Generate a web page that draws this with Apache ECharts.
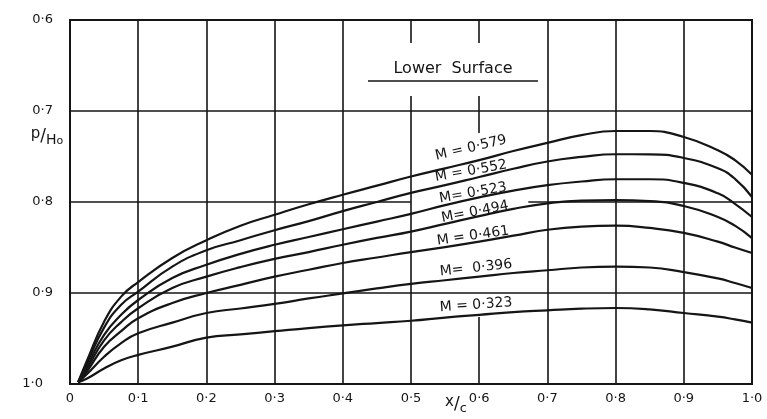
<!DOCTYPE html>
<html>
<head>
<meta charset="utf-8">
<script src="https://cdn.jsdelivr.net/npm/echarts@6/dist/echarts.min.js"></script>
<style>
html,body{margin:0;padding:0;background:#fff;}
#c{width:767px;height:419px;}
</style>
</head>
<body>
<div id="c"></div>
<script>
// ---- data ----
const xs   = [0.012, 0.025, 0.05, 0.075, 0.1, 0.15, 0.2, 0.25, 0.3, 0.35, 0.4, 0.45, 0.5, 0.55, 0.6, 0.65, 0.7, 0.75, 0.8, 0.85, 0.9, 0.95, 0.975, 1.0];
const m579 = [0.998, 0.974, 0.9315, 0.904, 0.888, 0.8615, 0.842, 0.826, 0.814, 0.8025, 0.792, 0.782, 0.772, 0.763, 0.754, 0.744, 0.735, 0.7265, 0.722, 0.722, 0.7286, 0.743, 0.754, 0.770];
const m552 = [0.998, 0.977, 0.938, 0.913, 0.8985, 0.871, 0.853, 0.842, 0.831, 0.821, 0.810, 0.800, 0.790, 0.7815, 0.7725, 0.7635, 0.7555, 0.7505, 0.7475, 0.7476, 0.7516, 0.763, 0.7745, 0.7945];
const m523 = [0.998, 0.980, 0.946, 0.924, 0.9077, 0.8835, 0.869, 0.857, 0.847, 0.8385, 0.830, 0.8215, 0.813, 0.8035, 0.795, 0.7875, 0.7815, 0.7775, 0.775, 0.775, 0.779, 0.7905, 0.802, 0.8165];
const m494 = [0.998, 0.983, 0.952, 0.932, 0.9168, 0.8945, 0.882, 0.8715, 0.8625, 0.855, 0.847, 0.8395, 0.8325, 0.824, 0.8155, 0.8075, 0.8015, 0.7985, 0.798, 0.799, 0.8044, 0.8165, 0.826, 0.8396];
const m461 = [0.998, 0.986, 0.959, 0.942, 0.9278, 0.911, 0.900, 0.891, 0.882, 0.8745, 0.867, 0.861, 0.855, 0.8495, 0.8435, 0.837, 0.8305, 0.827, 0.826, 0.8285, 0.834, 0.8436, 0.850, 0.856];
const m396 = [0.998, 0.989, 0.970, 0.955, 0.9443, 0.9326, 0.922, 0.917, 0.912, 0.906, 0.9005, 0.895, 0.890, 0.886, 0.882, 0.878, 0.875, 0.872, 0.871, 0.872, 0.877, 0.884, 0.889, 0.8945];
const m323 = [0.998, 0.994, 0.983, 0.974, 0.968, 0.959, 0.949, 0.9455, 0.942, 0.9385, 0.9355, 0.933, 0.9305, 0.927, 0.924, 0.921, 0.919, 0.9172, 0.9165, 0.918, 0.922, 0.926, 0.929, 0.9326];
const seriesNames = ['M = 0·579','M = 0·552','M= 0·523','M= 0·494','M = 0·461','M=  0·396','M = 0·323'];
const seriesValues = [m579, m552, m523, m494, m461, m396, m323];

const xTicks = [0,0.1,0.2,0.3,0.4,0.5,0.6,0.7,0.8,0.9,1.0];
const xTickLabels = ['0','0·1','0·2','0·3','0·4','0·5','0·6','0·7','0·8','0·9','1·0'];
const yTicks = [0.6,0.7,0.8,0.9,1.0];
const yTickLabels = ['0·6','0·7','0·8','0·9','1·0'];
const titleText = 'Lower  Surface';

// gaps in the hand-drawn grid (value space)
const vGaps = {0.5: [[0.6253, 0.6835]], 0.6: [[0.6253, 0.6835], [0.7242, 0.9264]]};
const hGaps = {0.8: [[0.5, 0.672]]};

// ---- layout / styles ----
const INK = '#151515';
const FONT = '"DejaVu Sans", sans-serif';
const labelLayout = [
  {x: 471, y: 148, r: 13},
  {x: 471, y: 171, r: 10},
  {x: 473, y: 193, r: 10},
  {x: 475, y: 212, r: 11},
  {x: 473, y: 236, r: 8},
  {x: 476, y: 268, r: 6},
  {x: 476, y: 305, r: 4}
];

function segs(lo, hi, gaps) {
  let out = [], s = lo;
  (gaps || []).forEach(g => { out.push([s, g[0]]); s = g[1]; });
  out.push([s, hi]);
  return out;
}
const gridLines = [];
xTicks.slice(1, -1).forEach(x => {
  const key = Math.round(x * 10) / 10;
  segs(0.6, 1.0, vGaps[key]).forEach(s => gridLines.push([{coord: [x, s[0]]}, {coord: [x, s[1]]}]));
});
yTicks.slice(1, -1).forEach(y => {
  const key = Math.round(y * 10) / 10;
  segs(0, 1.0, hGaps[key]).forEach(s => gridLines.push([{coord: [s[0], y]}, {coord: [s[1], y]}]));
});

const chart = echarts.init(document.getElementById('c'), null, {renderer: 'canvas'});
const series = seriesValues.map((vals, i) => ({
  name: seriesNames[i],
  type: 'line',
  data: xs.map((x, j) => [x, vals[j]]),
  smooth: 0.5,
  showSymbol: false,
  lineStyle: {color: INK, width: 2.2},
  z: 3
}));
series.push({
  type: 'line', data: [], silent: true,
  markLine: {
    silent: true, symbol: ['none', 'none'],
    label: {show: false},
    lineStyle: {color: INK, width: 1.6, type: 'solid'},
    emphasis: {disabled: true},
    animation: false,
    data: gridLines
  }
});

const graphics = seriesNames.map((n, i) => ({
  type: 'text',
  x: labelLayout[i].x, y: labelLayout[i].y,
  rotation: labelLayout[i].r * Math.PI / 180,
  style: {text: n, fill: INK, font: '14px ' + FONT, textAlign: 'center', textVerticalAlign: 'middle'},
  z: 10
}));
graphics.push({
  type: 'text', x: 453, y: 69,
  style: {text: titleText, fill: INK, font: '16px ' + FONT, textAlign: 'center', textVerticalAlign: 'middle'},
  z: 10
});
graphics.push({
  type: 'line', shape: {x1: 368, y1: 81, x2: 538, y2: 81},
  style: {stroke: INK, lineWidth: 1.6}, z: 10
});
graphics.push({
  type: 'text', x: 47, y: 137,
  style: {
    text: '{a|p}{b|/}{c|H}{d|o}',
    rich: {
      a: {font: '15px ' + FONT, fill: INK, verticalAlign: 'top', padding: [0,0,6,0]},
      b: {font: '17px ' + FONT, fill: INK},
      c: {font: '14px ' + FONT, fill: INK, padding: [6,0,0,0]},
      d: {font: '11px ' + FONT, fill: INK, padding: [9,0,0,0]}
    },
    textAlign: 'center', textVerticalAlign: 'middle'
  }, z: 10
});
graphics.push({
  type: 'text', x: 456, y: 405,
  style: {
    text: '{a|x}{b|/}{c|c}',
    rich: {
      a: {font: '15px ' + FONT, fill: INK, padding: [0,0,6,0]},
      b: {font: '17px ' + FONT, fill: INK},
      c: {font: '13px ' + FONT, fill: INK, padding: [7,0,0,0]}
    },
    textAlign: 'center', textVerticalAlign: 'middle'
  }, z: 10
});

chart.setOption({
  animation: false,
  backgroundColor: '#fff',
  grid: {left: 70, right: 15, top: 20, bottom: 35, show: true, borderColor: INK, borderWidth: 2, backgroundColor: 'transparent'},
  xAxis: {
    type: 'value', min: 0, max: 1, interval: 0.1,
    axisLine: {show: true, lineStyle: {color: INK, width: 2}},
    axisTick: {show: false},
    splitLine: {show: false},
    axisLabel: {
      color: INK, fontSize: 13, fontFamily: FONT, margin: 8,
      formatter: v => { const i = xTicks.findIndex(t => Math.abs(t - v) < 1e-6); return i >= 0 ? xTickLabels[i] : ''; }
    }
  },
  yAxis: {
    type: 'value', min: 0.6, max: 1.0, interval: 0.1, inverse: true,
    axisLine: {show: true, lineStyle: {color: INK, width: 2}},
    axisTick: {show: false},
    splitLine: {show: false},
    axisLabel: {
      color: INK, fontSize: 13, fontFamily: FONT, margin: 17,
      rich: {w: {fontSize: 13, fontFamily: FONT, color: INK, padding: [0, 10, 0, 0]}},
      formatter: v => {
        const i = yTicks.findIndex(t => Math.abs(t - v) < 1e-6);
        if (i < 0) return '';
        return i === yTicks.length - 1 ? '{w|' + yTickLabels[i] + '}' : yTickLabels[i];
      }
    }
  },
  series: series,
  graphic: graphics
});
</script>
</body>
</html>
